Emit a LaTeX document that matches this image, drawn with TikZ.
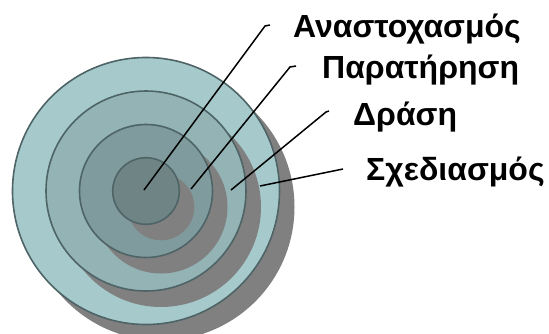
\documentclass[tikz,border=0pt]{standalone}
\usepackage{fontspec}
\setmainfont{Liberation Sans}
\begin{document}
\begin{tikzpicture}[x=1pt,y=-1pt,
  ring/.style={draw=ringline, line width=1.6pt},
  shade/.style={fill=shadowgray},
  leader/.style={draw=black, line width=1.5pt},
  lbl/.style={anchor=base west, inner sep=0pt, font=\bfseries\fontsize{32}{34}\selectfont}]
\definecolor{ringline}{HTML}{4E6466}
\definecolor{shadowgray}{HTML}{808080}
\definecolor{c1}{HTML}{A6CACC}
\definecolor{c2}{HTML}{93B3B5}
\definecolor{c3}{HTML}{809B9D}
\definecolor{c4}{HTML}{6E8485}
\useasboundingbox (0,0) rectangle (549,333);
\begin{scope}
\clip (0,0) rectangle (549,333);
\coordinate (c) at (146,191);
\fill[shade] ([shift={(15,16)}]c) circle (133.5);
\draw[ring, fill=c1] (c) circle (133.5);
\fill[shade] ([shift={(15,16)}]c) circle (100);
\draw[ring, fill=c2] (c) circle (100);
\fill[shade] ([shift={(15,16)}]c) circle (66.5);
\draw[ring, fill=c3] (c) circle (66.5);
\fill[shade] ([shift={(15,16)}]c) circle (33.3);
\draw[ring, fill=c4] (c) circle (33.3);
\end{scope}
% leader lines
\coordinate (a0) at (144,190);
\coordinate (a1) at (265,26);
\coordinate (a2) at (270,25);
\coordinate (b0) at (191,189);
\coordinate (b1) at (290,67);
\coordinate (b2) at (296,66);
\coordinate (d0) at (231,190);
\coordinate (d1) at (326,112);
\coordinate (d2) at (329,111);
\coordinate (e0) at (260,186);
\coordinate (e1) at (343,169);
\draw[leader] (a0) -- (a1) -- (a2);
\draw[leader] (b0) -- (b1) -- (b2);
\draw[leader] (d0) -- (d1) -- (d2);
\draw[leader] (e0) -- (e1);
\node[lbl] (t1) at (293,37) {Αναστοχασμός};
\node[lbl] (t2) at (322,78) {Παρατήρηση};
\node[lbl] (t3) at (353,125) {Δράση};
\node[lbl] (t4) at (366,180) {Σχεδιασμός};
\end{tikzpicture}
\end{document}
